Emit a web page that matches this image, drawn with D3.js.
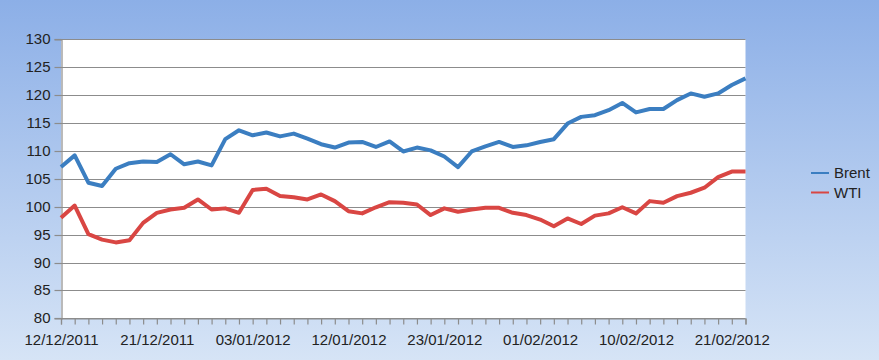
<!DOCTYPE html>
<html><head><meta charset="utf-8">
<script src="https://cdn.jsdelivr.net/npm/d3@7"></script>
<style>html,body{margin:0;padding:0;}svg{display:block;}</style>
</head><body>
<svg id="c" width="879" height="360"></svg>
<script>
const dates = ["12/12/2011","13/12/2011","14/12/2011","15/12/2011","16/12/2011","19/12/2011","20/12/2011","21/12/2011","22/12/2011","23/12/2011","27/12/2011","28/12/2011","29/12/2011","30/12/2011",
"03/01/2012","04/01/2012","05/01/2012","06/01/2012","09/01/2012","10/01/2012","11/01/2012","12/01/2012","13/01/2012","16/01/2012","17/01/2012","18/01/2012","19/01/2012","20/01/2012","23/01/2012","24/01/2012","25/01/2012","26/01/2012","27/01/2012","30/01/2012","31/01/2012",
"01/02/2012","02/02/2012","03/02/2012","06/02/2012","07/02/2012","08/02/2012","09/02/2012","10/02/2012","13/02/2012","14/02/2012","15/02/2012","16/02/2012","17/02/2012","20/02/2012","21/02/2012","22/02/2012"];
const brent = [107.1,109.2,104.3,103.7,106.8,107.8,108.1,108.0,109.4,107.6,108.1,107.4,112.1,113.7,112.8,113.3,112.6,113.1,112.2,111.2,110.6,111.5,111.6,110.7,111.7,109.9,110.6,110.1,109.0,107.1,109.9,110.8,111.6,110.7,111.0,111.6,112.1,114.9,116.1,116.4,117.3,118.6,116.9,117.5,117.5,119.1,120.3,119.7,120.3,121.8,123.0];
const wti = [98.0,100.2,95.1,94.1,93.6,94.0,97.1,98.9,99.5,99.8,101.3,99.5,99.7,98.9,103.0,103.2,101.9,101.7,101.3,102.2,101.0,99.2,98.8,99.9,100.8,100.7,100.4,98.5,99.7,99.1,99.5,99.8,99.8,98.9,98.5,97.7,96.5,97.9,96.9,98.4,98.8,99.9,98.8,101.0,100.7,101.9,102.5,103.4,105.3,106.3,106.3];
const yTicks = [80,85,90,95,100,105,110,115,120,125,130];
const seriesNames = ["Brent","WTI"];
const seriesColors = ["#3b7ec1","#d94643"];

(function(){
const svg = d3.select("#c");
const W = 879, H = 360;
const pL = 61, pR = 745.5, pT = 39.3, pB = 318.3;
const font = "'Liberation Sans', Arial, sans-serif";

const defs = svg.append("defs");
const g = defs.append("linearGradient").attr("id","bg").attr("x1",0).attr("y1",0).attr("x2",0).attr("y2",1);
g.append("stop").attr("offset","0%").attr("stop-color","#8cafe7");
g.append("stop").attr("offset","100%").attr("stop-color","#d6e4f6");
svg.append("rect").attr("width",W).attr("height",H).attr("fill","url(#bg)");

const x = d3.scalePoint().domain(d3.range(dates.length)).range([pL,pR]);
const y = d3.scaleLinear().domain([80,130]).range([pB,pT]);

svg.append("rect").attr("x",pL).attr("y",pT).attr("width",pR-pL).attr("height",pB-pT).attr("fill","#fff");

// gridlines
svg.append("g").selectAll("line").data(yTicks).join("line")
  .attr("x1",pL).attr("x2",pR)
  .attr("y1",d=>Math.round(y(d))+0.5).attr("y2",d=>Math.round(y(d))+0.5)
  .attr("stroke","#8c8c8c").attr("stroke-width",1.2);

// y axis
const yAxis = svg.append("g").attr("transform",`translate(${pL+0.5},0)`)
  .call(d3.axisLeft(y).tickValues(yTicks).tickSize(7).tickPadding(4).tickFormat(d3.format("d")));
yAxis.select(".domain").attr("stroke","#8c8c8c").attr("stroke-width",1.2);
yAxis.selectAll(".tick line").attr("stroke","#8c8c8c").attr("stroke-width",1.2);
yAxis.selectAll("text").attr("font-family",font).attr("font-size","15px").attr("fill","#222");
yAxis.selectAll(".tick").attr("transform",d=>`translate(0,${Math.round(y(d))+0.5})`);

// x axis
const xAxis = svg.append("g").attr("transform",`translate(0,${Math.round(pB)+0.5})`)
  .call(d3.axisBottom(x).tickSize(6).tickPadding(10).tickFormat(i => i%7===0 ? dates[i] : ""));
xAxis.select(".domain").attr("stroke","#8c8c8c").attr("stroke-width",1.2);
xAxis.selectAll(".tick line").attr("stroke","#8c8c8c").attr("stroke-width",1.2);
xAxis.selectAll("text").attr("font-family",font).attr("font-size","15px").attr("fill","#222");

// lines
const line = d3.line().x((d,i)=>x(i)).y(d=>y(d)).curve(d3.curveLinear);
[brent,wti].forEach((s,k)=>{
  svg.append("path").datum(s).attr("d",line).attr("fill","none")
    .attr("stroke",seriesColors[k]).attr("stroke-width",4).attr("stroke-linejoin","round").attr("stroke-linecap","butt");
});

// legend
const lg = svg.append("g");
seriesNames.forEach((n,k)=>{
  const ly = 173 + k*19.5;
  lg.append("line").attr("x1",811).attr("x2",829).attr("y1",ly).attr("y2",ly)
    .attr("stroke",seriesColors[k]).attr("stroke-width",2);
  lg.append("text").attr("x",834).attr("y",ly).attr("dy","0.35em")
    .attr("font-family",font).attr("font-size","15px").attr("fill","#222").text(n);
});
})();
</script>
</body></html>
